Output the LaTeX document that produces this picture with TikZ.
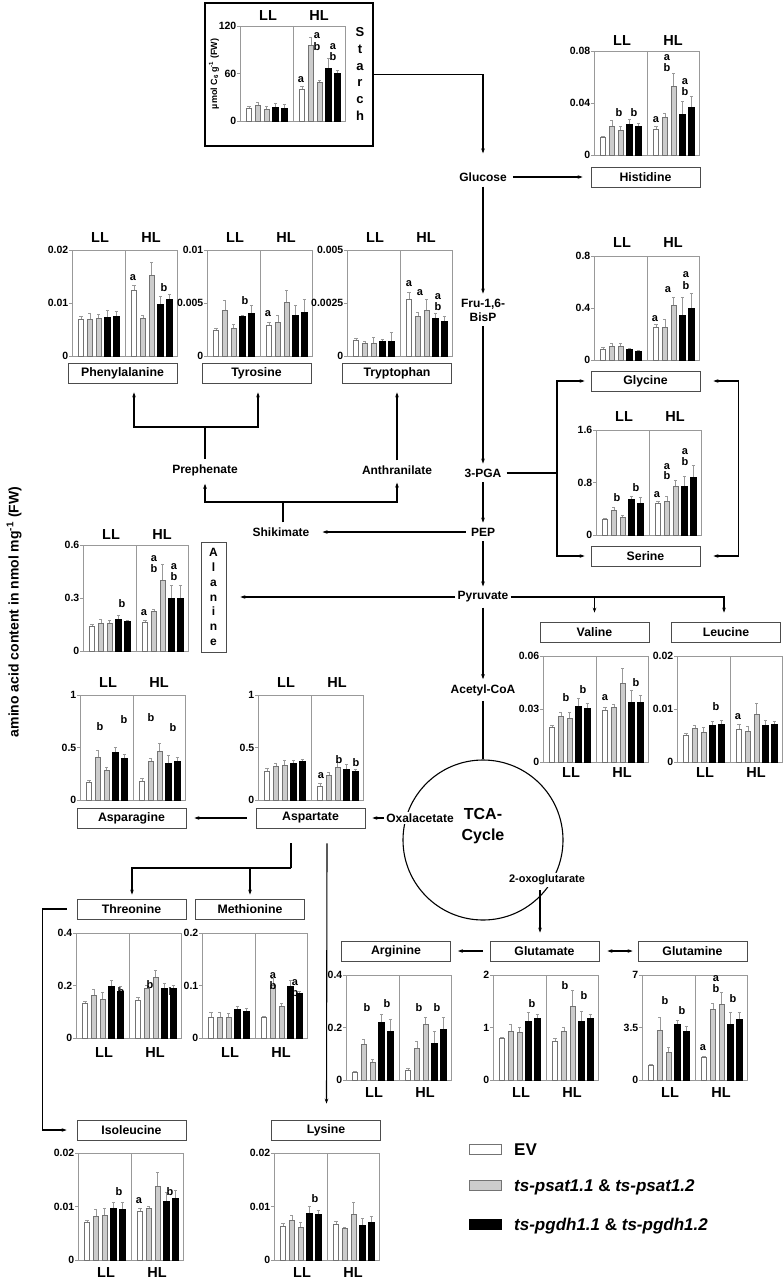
\documentclass[tikz,border=0pt]{standalone}
\usepackage{fontspec}
\setmainfont{Liberation Sans}
\usetikzlibrary{arrows.meta,calc}
\definecolor{axisgray}{gray}{0.6}
\definecolor{bargray}{gray}{0.8}
\definecolor{edgegray}{gray}{0.45}
\tikzset{
  axisline/.style={draw=axisgray, line width=0.8pt},
  errbar/.style={draw=axisgray, line width=0.6pt},
  ticklab/.style={font=\fontsize{10.5}{12}\selectfont\bfseries, anchor=east, inner sep=0pt},
  sig/.style={font=\fontsize{11}{12}\selectfont\bfseries, inner sep=0pt},
  cond/.style={font=\fontsize{14.5}{16}\selectfont\bfseries, inner sep=0pt},
  aabox/.style={draw=black!70, line width=0.8pt, minimum width=109pt, minimum height=20pt, inner sep=0pt, font=\fontsize{12.3}{14}\selectfont\bfseries},
  metab/.style={font=\fontsize{12}{14}\selectfont\bfseries, inner sep=2pt, align=center},
  arr/.style={-{Stealth[length=5pt,width=3.6pt]}, line width=1.1pt},
  darr/.style={{Stealth[length=5pt,width=3.6pt]}-{Stealth[length=5pt,width=3.6pt]}, line width=1.1pt},
  conn/.style={line width=1.1pt},
  swatch/.style={line width=0.8pt, minimum width=32pt, minimum height=10pt, inner sep=0pt},
  legtext/.style={anchor=west, font=\fontsize{17}{20}\selectfont\bfseries, inner sep=0pt},
}
\newcommand\mychart[6]{%
  \draw[axisline] (#1,#2-#3) rectangle (#1+105,#2);
  \draw[axisline] (#1+53,#2-#3) -- (#1+53,#2);
  \draw[axisline] (#1-3,#2-#3) -- (#1,#2-#3) (#1-3,#2-#3/2) -- (#1,#2-#3/2) (#1-3,#2) -- (#1,#2);
  \node[ticklab] at (#1-3.5,#2-#3) {#4};
  \node[ticklab] at (#1-3.5,#2-#3/2) {#5};
  \node[ticklab] at (#1-3.5,#2) {0};
  \foreach \hh/\ee [count=\i from 0] in {#6} {
    \pgfmathsetmacro\cx{#1 + (\i<5 ? 9+8.8*\i : 62+8.8*(\i-5))}
    \pgfmathtruncatemacro\k{mod(\i,5)}
    \ifnum\k=0 \def\fc{white}\def\dc{edgegray}\else
      \ifnum\k<3 \def\fc{bargray}\def\dc{edgegray}\else\def\fc{black}\def\dc{black}\fi\fi
    \draw[errbar] (\cx,#2-\hh) -- (\cx,#2-\ee) (\cx-1.6,#2-\ee) -- (\cx+1.6,#2-\ee);
    \draw[fill=\fc, draw=\dc, line width=0.5pt] (\cx-2.7,#2) rectangle (\cx+2.7,#2-\hh);
  }
}
\newcommand\lbls[2]{\node[cond] at (#1+28,#2) {LL}; \node[cond] at (#1+79,#2) {HL};}
\newcommand\lt[3]{\node[sig] at (#1,#2) {#3};}
\begin{document}
\begin{tikzpicture}[x=1pt,y=-1pt]
\useasboundingbox (0,0) rectangle (783,1281);

% global y label
\node[rotate=90, font=\fontsize{14}{16}\selectfont\bfseries] (ylab) at (14,612) {amino acid content in nmol mg\textsuperscript{-1} (FW)};

% ---------- starch
\node[draw, line width=1.6pt, minimum width=168pt, minimum height=143pt, inner sep=0pt] (starchbox) at (289,74.5) {};
\mychart{240}{121}{95}{120}{60}{13/15,16/19,12/15,14/18,13/17,32/35,76/84,39/41,53/63,48/51}
\lbls{240}{16}
\lt{301}{80}{a}\lt{317}{36}{a}\lt{317}{47}{b}\lt{333}{47}{a}\lt{333}{57}{b}
\node[font=\fontsize{13}{16.8}\selectfont\bfseries, align=center, inner sep=0pt] (starchlab) at (360,74) {S\\t\\a\\r\\c\\h};
\node[rotate=90, font=\fontsize{9}{10}\selectfont\bfseries] (starchy) at (214,74) {µmol C\textsubscript{6} g\textsuperscript{-1} (FW)};

% ---------- histidine
\mychart{594}{155}{104}{0.08}{0.04}{18/19,29/35,25/29,31/36,29/32,26/29,38/42,69/82,41/54,48/59}
\lbls{594}{41}
\lt{619}{113}{b}\lt{634}{113}{b}\lt{656}{120}{a}\lt{667}{58}{a}\lt{667}{68}{b}\lt{685}{82}{a}\lt{685}{92}{b}

% ---------- phenylalanine
\mychart{72}{356}{106}{0.02}{0.01}{37/40,37/43,38/42,39/46,40/45,66/71,38/41,81/94,52/60,57/62}
\lbls{72}{238}
\lt{133}{278}{a}\lt{164}{288}{b}
% ---------- tyrosine
\mychart{207}{356}{106}{0.01}{0.005}{26/28,46/56,28/32,40/41,43/51,31/34,34/41,54/66,41/51,44/57}
\lbls{207}{238}
\lt{245}{301}{b}\lt{268}{314}{a}
% ---------- tryptophan
\mychart{347}{356}{106}{0.005}{0.0025}{16/18,13/15,13/19,15/17,15/24,57/64,40/44,46/57,38/43,35/40}
\lbls{347}{238}
\lt{409}{284}{a}\lt{420}{293}{a}\lt{438}{297}{a}\lt{438}{307}{b}

% ---------- glycine
\mychart{594}{360}{104}{0.8}{0.4}{11/13,14/17,14/17,11/12,9/10,33/36,33/41,55/63,45/63,52/67}
\lbls{594}{243}
\lt{655}{319}{a}\lt{668}{290}{a}\lt{686}{275}{a}\lt{686}{286}{b}
% ---------- serine
\mychart{596}{535}{105}{1.6}{0.8}{16/17,25/28,18/20,36/39,32/38,32/34,34/39,49/55,49/59,58/70}
\lbls{596}{417}
\lt{617}{498}{b}\lt{636}{488}{b}\lt{657}{495}{a}\lt{667}{467}{a}\lt{667}{476}{b}\lt{685}{452}{a}\lt{685}{462}{b}

% ---------- alanine
\mychart{83}{651}{106}{0.6}{0.3}{25/27,28/32,28/31,32/36,30/31,29/31,40/42,71/87,53/66,53/66}
\lbls{83}{535}
\lt{122}{604}{b}\lt{144}{613}{a}\lt{154}{559}{a}\lt{154}{569}{b}\lt{174}{567}{a}\lt{174}{577}{b}

% ---------- valine
\mychart{543}{762}{106}{0.06}{0.03}{35/37,46/50,44/50,56/64,54/59,52/55,55/58,79/94,60/72,60/67}
\lbls{543}{773}
\lt{566}{698}{b}\lt{583}{690}{b}\lt{605}{698}{a}\lt{636}{683}{b}
% ---------- leucine
\mychart{677}{762}{106}{0.02}{0.01}{27/29,34/37,30/35,37/41,38/42,33/38,31/36,48/59,37/42,38/41}
\lbls{677}{773}
\lt{716}{707}{b}\lt{738}{717}{a}

% ---------- asparagine
\mychart{80}{800}{105}{1}{0.5}{18/20,43/50,30/33,48/53,42/46,19/22,39/42,49/57,37/45,39/43}
\lbls{80}{683}
\lt{100}{727}{b}\lt{124}{720}{b}\lt{151}{718}{b}\lt{173}{728}{b}
% ---------- aspartate
\mychart{258}{800}{105}{1}{0.5}{29/32,34/37,35/40,37/40,39/41,14/17,25/28,33/38,31/36,29/31}
\lbls{258}{683}
\lt{321}{776}{a}\lt{339}{760}{b}\lt{356}{763}{b}

% ---------- threonine
\mychart{76}{1038}{105}{0.4}{0.2}{35/37,43/49,39/46,52/58,47/52,38/41,50/53,61/68,50/55,50/53}
\lbls{76}{1052}
\lt{121}{992}{b}\lt{150}{985}{b}\lt{172}{992}{b}
% ---------- methionine
\mychart{202}{1038}{105}{0.2}{0.1}{21/26,21/26,21/25,29/32,27/30,21/22,53/60,32/35,52/58,45/47}
\lbls{202}{1052}
\lt{273}{976}{a}\lt{273}{986}{b}\lt{295}{983}{a}\lt{295}{993}{b}

% ---------- arginine
\mychart{346}{1080}{105}{0.4}{0.2}{8/9,36/41,18/21,58/66,49/61,10/12,32/39,56/63,37/49,51/63}
\lbls{346}{1092}
\lt{367}{1008}{b}\lt{387}{1004}{b}\lt{419}{1008}{b}\lt{437}{1008}{b}
% ---------- glutamate
\mychart{493}{1080}{105}{2}{1}{42/43,49/56,48/53,59/68,62/66,39/42,49/53,74/90,59/69,62/66}
\lbls{493}{1092}
\lt{532}{1004}{b}\lt{565}{986}{b}\lt{584}{996}{b}
% ---------- glutamine
\mychart{642}{1080}{105}{7}{3.5}{15/16,50/63,28/33,56/60,49/54,23/24,71/77,76/88,56/68,61/68}
\lbls{642}{1092}
\lt{665}{1001}{b}\lt{682}{1011}{b}\lt{703}{1048}{a}\lt{716}{979}{a}\lt{716}{989}{b}\lt{733}{999}{b}

% ---------- isoleucine
\mychart{78}{1260}{107}{0.02}{0.01}{38/40,44/51,45/52,52/58,51/58,49/52,52/54,74/88,59/68,62/70}
\lbls{78}{1272}
\lt{119}{1192}{b}\lt{139}{1201}{a}\lt{170}{1192}{b}
% ---------- lysine
\mychart{274}{1260}{107}{0.02}{0.01}{34/37,40/45,33/38,47/54,46/50,36/39,32/33,46/58,35/42,38/44}
\lbls{274}{1272}
\lt{315}{1199}{b}

% ---------- amino-acid boxes
\node[aabox] (his) at (645.5,177) {Histidine};
\node[aabox] (phe) at (122.5,373) {Phenylalanine};
\node[aabox] (tyr) at (256.5,373) {Tyrosine};
\node[aabox] (trp) at (397,373) {Tryptophan};
\node[aabox] (gly) at (645.5,381) {Glycine};
\node[aabox] (ser) at (645.5,556) {Serine};
\node[aabox] (val) at (594.5,632) {Valine};
\node[aabox] (leu) at (726,632) {Leucine};
\node[draw=black!70, line width=0.8pt, minimum width=25pt, minimum height=110pt, inner sep=0pt, align=center, font=\fontsize{12}{14.8}\selectfont\bfseries] (ala) at (213.5,597) {A\\l\\a\\n\\i\\n\\e};
\node[aabox] (asn) at (131.5,818) {Asparagine};
\node[aabox] (asp) at (310.5,818) {Aspartate};
\node[aabox] (thr) at (131.5,909) {Threonine};
\node[aabox] (met) at (250,909) {Methionine};
\node[aabox] (arg) at (396,951) {Arginine};
\node[aabox] (glu) at (544.5,951) {Glutamate};
\node[aabox] (gln) at (692.5,951) {Glutamine};
\node[aabox] (ile) at (131.5,1130) {Isoleucine};
\node[aabox] (lys) at (326,1130) {Lysine};

% ---------- metabolites
\node[metab] (glc) at (483,177) {Glucose};
\node[metab] (fru) at (483,310) {Fru-1,6-\\BisP};
\node[metab] (pga) at (483,473) {3-PGA};
\node[metab] (pep) at (483,532) {PEP};
\node[metab] (pyr) at (483,597) {Pyruvate};
\node[metab] (acoa) at (483,690) {Acetyl-CoA};
\node[metab] (shik) at (281,532) {Shikimate};
\node[metab] (preph) at (205,470) {Prephenate};
\node[metab] (anth) at (397,470) {Anthranilate};
\node[circle, draw, line width=1.1pt, minimum size=160pt, inner sep=0pt] (tca) at (483,840) {};
\node[font=\fontsize{16}{21}\selectfont\bfseries, align=center, inner sep=0pt] (tcalab) at (483,826) {TCA-\\Cycle};
\node[metab, fill=white] (oaa) at (420,818) {Oxalacetate};
\node[metab, fill=white, font=\fontsize{11}{13}\selectfont\bfseries] (oxo) at (547,880) {2-oxoglutarate};

% ---------- connectors
\draw[arr] (starchbox.east) -| ($(glc.north)+(0,-17)$);
\draw[arr, shorten <=4pt, shorten >=8pt] (glc) -- (his);
\draw[arr, shorten <=3pt, shorten >=3pt] (glc) -- (fru);
\draw[arr, shorten <=3pt, shorten >=3pt] (fru) -- (pga);
\draw[arr, shorten <=3pt, shorten >=3pt] (pga) -- (pep);
\draw[arr, shorten <=3pt, shorten >=3pt] (pep) -- (pyr);
\draw[arr, shorten <=3pt, shorten >=3pt] (pyr) -- (acoa);
\draw[conn, shorten <=3pt] (acoa) -- (tca);

\coordinate (pgaj) at (557,473);
\draw[conn, shorten <=3pt] (pga) -- (pgaj);
\draw[arr, shorten >=6pt] (pgaj) |- (gly.west);
\draw[arr, shorten >=6pt] (pgaj) |- (ser.west);
\draw[darr] ($(gly.east)+(13,0)$) -- ++(25,0) |- ($(ser.east)+(13,0)$);

\draw[arr, shorten <=3pt, shorten >=11pt] (pep) -- (shik);
\coordinate (shj) at (283,502);
\draw[conn, shorten <=3pt] (shj |- shik.north) -- (shj);
\draw[arr, shorten >=6pt] (shj) -| (preph.south);
\draw[arr, shorten >=6pt] (shj) -| (anth.south);

\coordinate (prj) at (205,427);
\draw[conn, shorten <=3pt] (preph.north) -- (prj);
\draw[arr] (prj) -| ($(phe.south)+(11.5,9)$);
\draw[arr] (prj) -| ($(tyr.south)+(1.5,9)$);
\draw[arr, shorten <=3pt] (anth.north) -- ($(trp.south)+(0,9)$);

\draw[arr] (pyr.west) -- ($(ala.east)+(14,0)$);
\draw[arr] (pyr.east) -| ($(leu.north)+(-2,-9)$);
\draw[arr] (pyr.east -| val.north) -- ($(val.north)+(0,-9)$);

\draw[arr, shorten >=7pt] (oaa) -- (asp);
\draw[arr, shorten <=9pt, shorten >=8pt] (asp) -- (asn);
\coordinate (asj) at (291,868);
\draw[conn] ($(asp.south)+(-19.5,15)$) -- (asj);
\draw[arr] (asj) -| ($(thr.north)+(0.5,-4)$);
\draw[arr] (asj) -| ($(met.north)+(0,-4)$);
\draw[arr] ($(asp.south)+(16.5,15)$) -- ($(lys.north)+(0.5,-16)$);
\draw[arr] ($(thr.west)+(-10,0)$) -- ++(-24,0) |- ($(ile.west)+(-10,0)$);

\draw[arr] ($(oxo.south)+(-7,3)$) -- ($(glu.north)+(-4.5,-8)$);
\draw[arr, shorten <=7pt, shorten >=7pt] (glu) -- (arg);
\draw[darr, shorten <=8pt, shorten >=5pt] (glu) -- (gln);

% ---------- legend
\node[swatch, draw=edgegray, fill=white] (lg1) at (485,1149) {};
\node[swatch, draw=edgegray, fill=bargray] (lg2) at (485,1185.5) {};
\node[swatch, draw=black, fill=black] (lg3) at (485,1224) {};
\node[legtext] (lt1) at (514,1150) {EV};
\node[legtext] (lt2) at (514,1187) {\textit{ts-psat1.1} \& \textit{ts-psat1.2}};
\node[legtext] (lt3) at (514,1226) {\textit{ts-pgdh1.1} \& \textit{ts-pgdh1.2}};
\end{tikzpicture}
\end{document}
